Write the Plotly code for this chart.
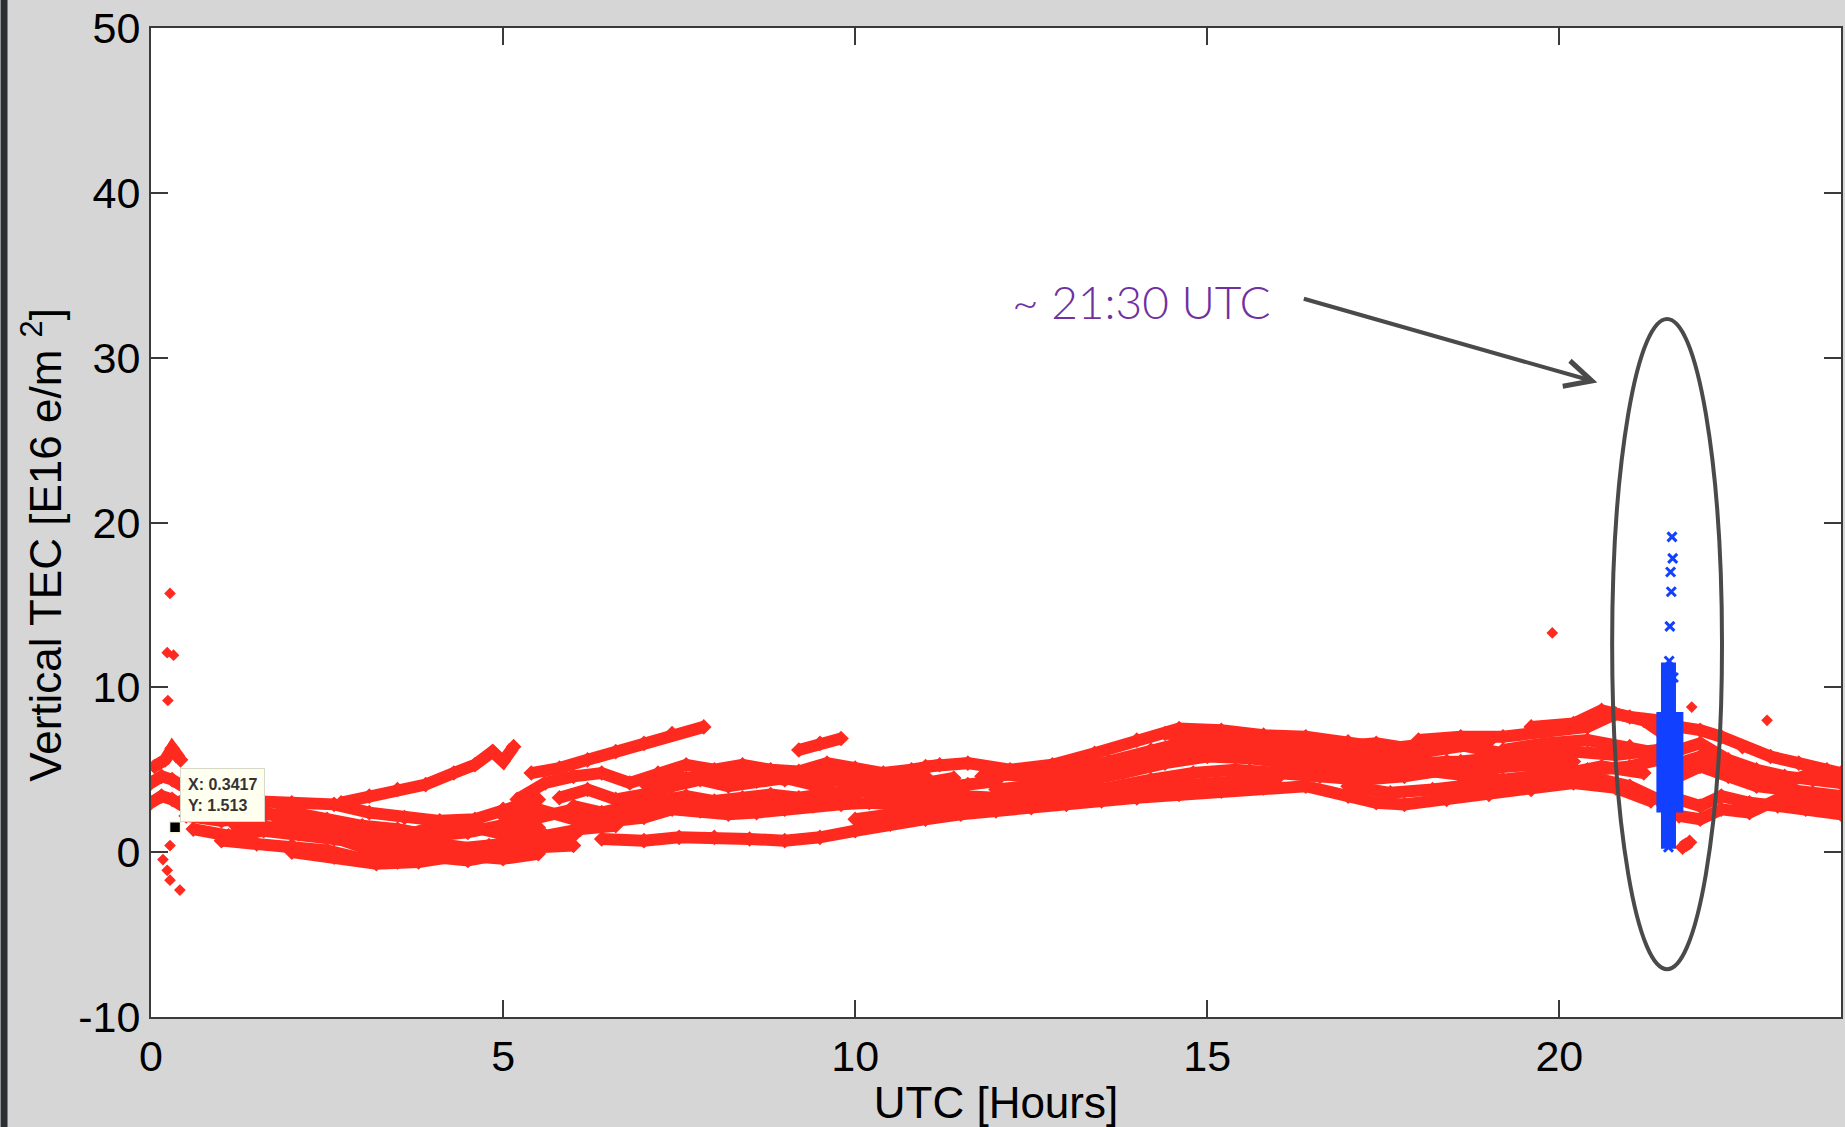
import plotly.graph_objects as go

# ---------------------------------------------------------------
# Vertical TEC from individual satellite passes (hours UTC, TECU)
# ---------------------------------------------------------------
pass_01 = [(0.4, 3.0), (0.9, 2.9), (1.4, 3.1), (2.0, 3.0), (2.6, 2.9), (3.1, 2.4), (3.6, 2.1),
           (4.1, 1.9), (4.6, 2.0), (5.0, 2.6), (5.5, 3.2)]
pass_02 = [(0.5, 2.2), (1.0, 1.9), (1.5, 2.2), (2.0, 2.4), (2.5, 2.0), (3.0, 1.6), (3.5, 1.4),
           (4.0, 1.0), (4.5, 1.2), (5.0, 1.6), (5.5, 2.1), (6.0, 2.6)]
pass_03 = [(0.6, 1.4), (1.1, 1.0), (1.6, 1.3), (2.1, 1.1), (2.6, 0.8), (3.1, 0.5), (3.6, 0.3),
           (4.1, 0.5), (4.6, 0.2), (5.1, 0.6), (5.6, 1.0), (6.1, 1.4), (6.6, 1.6)]
pass_04 = [(1.0, 0.7), (1.5, 0.5), (2.0, 0.4), (2.5, 0.1), (3.0, -0.4), (3.5, -0.6), (4.0, -0.3),
           (4.5, -0.5), (5.0, -0.1), (5.5, 0.3), (6.0, 0.4)]
pass_05 = [(1.8, 2.0), (2.3, 1.8), (2.8, 1.1), (3.3, 0.2), (3.8, 0.9), (4.3, 1.4)]
pass_06 = [(2.7, 3.0), (3.1, 3.4), (3.5, 3.8), (3.9, 4.1), (4.3, 4.8), (4.6, 5.3), (4.85, 6.1),
           (5.0, 5.5), (5.15, 6.4)]
pass_07 = [(5.4, 4.8), (5.8, 5.1), (6.2, 5.6), (6.6, 6.1), (7.0, 6.6), (7.4, 7.2), (7.85, 7.6)]
pass_08 = [(9.2, 6.2), (9.5, 6.6), (9.8, 6.9)]
pass_09 = [(5.2, 3.2), (5.6, 4.2), (6.0, 4.6), (6.4, 4.8), (6.8, 4.2), (7.2, 4.8), (7.6, 5.3),
           (8.0, 5.0), (8.4, 5.3), (8.8, 5.0), (9.2, 4.9), (9.6, 5.4), (10.0, 5.1), (10.4, 4.8),
           (10.8, 5.0), (11.2, 5.3)]
pass_10 = [(5.8, 3.3), (6.2, 3.8), (6.6, 3.2), (7.0, 3.5), (7.4, 4.0), (7.8, 4.4), (8.2, 4.0),
           (8.6, 4.3), (9.0, 4.5), (9.4, 4.1), (9.8, 4.4), (10.2, 4.0), (10.6, 3.9), (11.0, 4.2),
           (11.4, 4.5)]
pass_11 = [(6.0, 2.8), (6.4, 2.4), (6.8, 2.8), (7.2, 3.1), (7.6, 3.4), (8.0, 3.1), (8.4, 3.3),
           (8.8, 3.5), (9.2, 3.3), (9.6, 3.6), (10.0, 3.8), (10.4, 3.5), (10.8, 3.7), (11.2, 4.0),
           (11.6, 4.1), (12.0, 4.3)]
pass_12 = [(6.6, 1.9), (7.0, 2.1), (7.4, 2.6), (7.8, 2.5), (8.2, 2.3), (8.6, 2.4), (9.0, 2.6),
           (9.4, 2.8), (9.8, 2.9), (10.2, 3.0), (10.6, 2.9), (11.0, 3.2), (11.5, 3.4), (12.0, 3.3),
           (12.5, 3.6), (13.0, 3.8)]
pass_13 = [(6.4, 0.8), (7.0, 0.7), (7.5, 0.9), (8.0, 0.9), (8.5, 0.8), (9.0, 0.7), (9.5, 0.9),
           (10.0, 1.3), (10.5, 1.7), (11.0, 2.0), (11.5, 2.3), (12.0, 2.5), (12.5, 2.7),
           (13.0, 2.9), (13.5, 3.1), (14.0, 3.3)]
pass_14 = [(11.0, 5.2), (11.6, 5.4), (12.2, 5.0), (12.8, 5.3), (13.4, 6.0), (14.0, 6.8),
           (14.6, 7.5), (15.2, 7.4), (15.8, 7.1), (16.4, 7.0), (17.0, 6.7), (17.6, 6.3), (18.2, 6.6)]
pass_15 = [(11.8, 4.6), (12.4, 4.8), (13.0, 4.9), (13.6, 5.5), (14.2, 6.2), (14.8, 6.8),
           (15.4, 6.6), (16.0, 6.3), (16.6, 6.0), (17.2, 5.8), (17.8, 5.9), (18.4, 6.3), (19.0, 6.7)]
pass_16 = [(12.0, 3.8), (12.6, 4.0), (13.2, 4.3), (13.8, 4.8), (14.4, 5.4), (15.0, 5.8),
           (15.6, 5.7), (16.2, 5.4), (16.8, 5.0), (17.4, 5.1), (18.0, 5.4), (18.6, 5.5),
           (19.2, 5.8), (19.8, 6.0)]
pass_17 = [(13.0, 3.6), (13.6, 3.9), (14.2, 4.4), (14.8, 4.8), (15.4, 5.0), (16.0, 4.8),
           (16.6, 4.6), (17.2, 4.4), (17.8, 4.6), (18.4, 5.0), (19.0, 5.1), (19.6, 5.3), (20.2, 5.5)]
pass_18 = [(14.0, 3.3), (14.6, 3.5), (15.2, 3.7), (15.8, 3.9), (16.4, 4.0), (17.0, 3.4),
           (17.4, 3.0), (17.8, 2.9), (18.4, 3.2), (19.0, 3.5), (19.6, 3.8), (20.2, 4.2),
           (20.8, 3.9), (21.3, 3.1)]
pass_19 = [(15.0, 6.2), (15.6, 6.0), (16.2, 5.9), (16.8, 5.6), (17.4, 5.3), (18.0, 5.0),
           (18.6, 4.6), (19.2, 4.4), (19.8, 4.7), (20.4, 5.0), (21.0, 5.2), (21.4, 5.6)]
pass_20 = [(18.0, 6.8), (18.6, 7.0), (19.2, 7.0), (19.8, 7.3), (20.4, 7.6), (20.8, 8.4),
           (21.2, 8.0), (21.4, 7.4)]
pass_21 = [(19.2, 6.2), (19.8, 6.6), (20.4, 6.8), (21.0, 6.4), (21.4, 6.0)]
pass_22 = [(20.0, 4.3), (20.5, 4.5), (21.0, 4.0), (21.4, 3.2)]
pass_23 = [(21.7, 7.6), (22.0, 7.4), (22.3, 7.0), (22.6, 6.4), (23.0, 5.8), (23.4, 5.4),
           (23.8, 5.0), (24.0, 4.8)]
pass_24 = [(21.7, 6.2), (22.0, 6.6), (22.4, 5.6), (22.8, 5.0), (23.2, 4.6), (23.6, 4.4), (24.0, 4.2)]
pass_25 = [(21.7, 4.6), (22.0, 5.2), (22.4, 4.6), (22.8, 4.0), (23.2, 3.8), (23.6, 3.6), (24.0, 3.4)]
pass_26 = [(21.7, 3.2), (22.0, 2.8), (22.3, 3.4), (22.7, 3.0), (23.1, 2.8), (23.5, 2.6), (24.0, 2.3)]
# short arcs right at the start of the day
pass_27 = [(0.0, 3.0), (0.15, 3.4), (0.3, 3.2), (0.45, 2.8)]
pass_28 = [(0.0, 4.2), (0.15, 4.6), (0.3, 4.4), (0.45, 4.0)]
pass_29 = [(0.05, 5.2), (0.2, 5.6), (0.3, 6.3), (0.42, 5.6)]
pass_30 = [(21.75, 0.3), (21.85, 0.6)]
pass_31 = [(0.5, 2.6), (1.0, 2.4), (1.5, 2.6), (2.0, 1.9), (2.5, 1.5), (3.0, 1.0), (3.5, 0.9),
           (4.0, 1.5), (4.5, 1.6), (5.0, 1.1), (5.5, 1.5)]
pass_32 = [(1.2, 1.6), (1.8, 1.5), (2.4, 1.2), (3.0, 0.3), (3.6, -0.1), (4.2, 0.1), (4.8, 0.4),
           (5.4, 0.8), (6.0, 1.0)]
pass_33 = [(2.0, 0.0), (2.6, -0.3), (3.2, -0.7), (3.8, -0.6), (4.4, -0.2), (5.0, -0.4), (5.5, -0.1)]
pass_34 = [(5.0, 2.2), (5.5, 2.6), (6.0, 2.0), (6.5, 2.2), (7.0, 2.7), (7.5, 2.9), (8.0, 2.8),
           (8.5, 2.9), (9.0, 3.1), (9.5, 3.2), (10.0, 3.4)]
pass_35 = [(7.0, 4.2), (7.5, 4.5), (8.0, 4.6), (8.5, 4.7), (9.0, 4.4), (9.5, 4.8), (10.0, 4.5),
           (10.5, 4.4), (11.0, 4.6)]
pass_36 = [(10.0, 2.0), (10.6, 2.4), (11.2, 2.7), (11.8, 3.0), (12.4, 3.2), (13.0, 3.3),
           (13.6, 3.6), (14.2, 3.9), (14.8, 4.1), (15.4, 4.4), (16.0, 4.5)]
pass_37 = [(12.0, 4.8), (12.6, 4.5), (13.2, 4.6), (13.8, 5.1), (14.4, 5.9), (15.0, 6.4),
           (15.6, 6.3), (16.2, 6.0)]
pass_38 = [(14.4, 7.2), (15.0, 7.0), (15.6, 6.8), (16.2, 6.6), (16.8, 6.4), (17.4, 6.6),
           (18.0, 6.2), (18.6, 6.5), (19.2, 6.0)]
pass_39 = [(16.0, 5.2), (16.6, 5.3), (17.2, 4.8), (17.8, 5.0), (18.4, 5.5), (19.0, 5.3),
           (19.6, 5.8), (20.2, 6.1), (20.8, 5.9), (21.4, 6.2)]
pass_40 = [(17.0, 4.0), (17.6, 3.6), (18.2, 3.8), (18.8, 4.1), (19.4, 4.0), (20.0, 4.7),
           (20.6, 5.2), (21.2, 4.8)]
pass_41 = [(19.6, 7.6), (20.2, 7.8), (20.6, 8.6), (21.0, 8.2), (21.4, 8.0)]
pass_42 = [(21.7, 5.4), (22.0, 5.8), (22.4, 5.0), (22.8, 4.4), (23.2, 4.2), (23.6, 4.8), (24.0, 4.5)]
pass_43 = [(21.7, 2.2), (22.0, 2.0), (22.3, 2.6), (22.7, 2.4), (23.1, 3.2), (23.5, 3.0), (24.0, 2.9)]

passes = [pass_01, pass_02, pass_03, pass_04, pass_05, pass_06, pass_07, pass_08, pass_09,
          pass_10, pass_11, pass_12, pass_13, pass_14, pass_15, pass_16, pass_17, pass_18,
          pass_19, pass_20, pass_21, pass_22, pass_23, pass_24, pass_25, pass_26, pass_27,
          pass_28, pass_29, pass_30, pass_31, pass_32, pass_33, pass_34, pass_35, pass_36,
          pass_37, pass_38, pass_39, pass_40, pass_41, pass_42, pass_43]

# isolated samples (outliers)
outlier_hours = [0.27, 0.23, 0.32, 0.24, 0.27, 0.17, 0.23, 0.27, 0.41, 19.9, 22.95, 21.88]
outlier_tec = [15.7, 12.1, 11.95, 9.2, 0.4, -0.45, -1.1, -1.7, -2.3, 13.3, 8.0, 8.8]

# highlighted receiver samples around 21:30 UTC
event_core_hours = [21.57, 21.57]
event_core_tec = [2.4, 8.5]
event_column_hours = [21.55, 21.55]
event_column_tec = [0.2, 11.5]
event_spike_hours = [21.6, 21.61, 21.58, 21.59, 21.57, 21.56, 21.62, 21.55]
event_spike_tec = [19.13, 17.82, 17.0, 15.8, 13.7, 11.6, 10.6, 0.3]

# data tip
tip_hour = 0.3417
tip_tec = 1.513

x_ticks = [0, 5, 10, 15, 20]
y_ticks = [-10, 0, 10, 20, 30, 40, 50]
y_tick_text = ["-10", "0", "10", "20", "30", "40", "50"]

RED = "#ff2a1f"
BLUE = "#1240ff"
AXIS = "#3a3a3a"
FONT = "Liberation Sans"

fig = go.Figure()

for p in passes:
    fig.add_trace(go.Scatter(
        x=[h for h, _ in p], y=[v for _, v in p], mode="lines+markers",
        line=dict(color=RED, width=12),
        marker=dict(symbol="diamond", size=12, color=RED),
        hoverinfo="skip", showlegend=False))

fig.add_trace(go.Scatter(x=outlier_hours, y=outlier_tec, mode="markers",
                         marker=dict(symbol="diamond", size=9, color=RED),
                         hoverinfo="skip", showlegend=False))

fig.add_trace(go.Scatter(x=event_column_hours, y=event_column_tec, mode="lines",
                         line=dict(color=BLUE, width=15), hoverinfo="skip", showlegend=False))
fig.add_trace(go.Scatter(x=event_core_hours, y=event_core_tec, mode="lines",
                         line=dict(color=BLUE, width=27), hoverinfo="skip", showlegend=False))
fig.add_trace(go.Scatter(x=event_spike_hours, y=event_spike_tec, mode="markers",
                         marker=dict(symbol="x-thin", size=9, color=BLUE,
                                     line=dict(color=BLUE, width=3)),
                         hoverinfo="skip", showlegend=False))

fig.add_trace(go.Scatter(x=[tip_hour], y=[tip_tec], mode="markers",
                         marker=dict(symbol="square", size=11, color="black",
                                     line=dict(color="#f6f3d8", width=1.5)),
                         hoverinfo="skip", showlegend=False))

fig.add_annotation(x=tip_hour, y=tip_tec, xref="x", yref="y",
                   text=f"<b>X: {tip_hour}<br>Y: {tip_tec}</b>", showarrow=False,
                   xanchor="left", yanchor="bottom", xshift=5, yshift=5,
                   align="left", bgcolor="#fffff0", bordercolor="#d8d8c8", borderwidth=1,
                   borderpad=7, font=dict(family=FONT, size=16, color="#333"))

# highlight ellipse and annotation
fig.add_shape(type="circle", xref="x", yref="y", x0=20.75, x1=22.31, y0=-7.1, y1=32.35,
              line=dict(color="#4a4a4a", width=4))
fig.add_annotation(x=14.07, y=33.4, xref="x", yref="y", text="~ 21:30 UTC",
                   showarrow=False, font=dict(family="Lato", size=46, color="#7030a0",
                                               weight=300))
fig.add_annotation(x=20.54, y=28.5, ax=16.35, ay=33.6, xref="x", yref="y",
                   axref="x", ayref="y", text="", showarrow=True, arrowhead=5,
                   arrowsize=1.3, arrowwidth=4, arrowcolor="#4a4a4a")

# y axis title
fig.add_annotation(x=-0.0648, y=0.478, xref="paper", yref="paper", textangle=-90,
                   xanchor="center", yanchor="middle",
                   text="Vertical TEC [E16 e/m <sup>2</sup>]", showarrow=False,
                   font=dict(family=FONT, size=44, color="black"))

# dark frame strip at the far left
fig.add_shape(type="rect", xref="paper", yref="paper", x0=-0.0890, x1=-0.0849, y0=-0.2,
              y1=1.2, fillcolor="#2b2e33", line=dict(width=0), layer="above")

axis_common = dict(showline=True, linecolor=AXIS, linewidth=2, mirror="ticks",
                   ticks="inside", ticklen=17, tickwidth=1.5, tickcolor=AXIS,
                   showgrid=False, zeroline=False,
                   tickfont=dict(family=FONT, size=43, color="black"))

fig.update_layout(
    width=1845, height=1127,
    margin=dict(l=151, r=2, t=28, b=110),
    paper_bgcolor="#d6d6d6", plot_bgcolor="white",
    font=dict(family=FONT, color="black"),
    xaxis=dict(range=[0, 24], tickvals=x_ticks, **axis_common,
               title=dict(text="UTC [Hours]", standoff=12,
                          font=dict(family=FONT, size=44))),
    yaxis=dict(range=[-10, 50], tickvals=y_ticks, ticktext=y_tick_text, **axis_common),
)

fig.write_html("out.html")
